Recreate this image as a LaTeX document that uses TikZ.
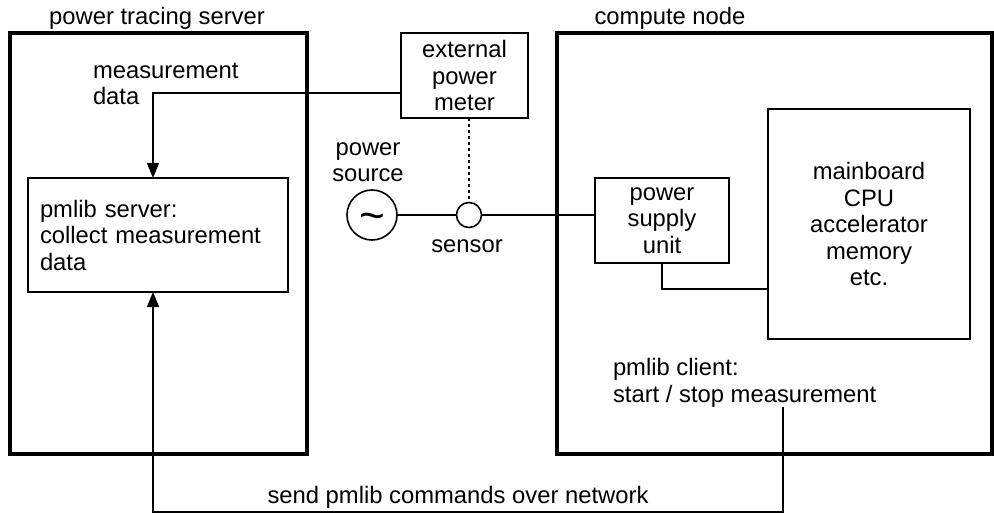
\documentclass[tikz,border=0pt]{standalone}
\usepackage{fontspec}
\setmainfont{Liberation Sans}
\usetikzlibrary{arrows.meta}
\begin{document}
\begin{tikzpicture}[x=1pt,y=-1pt,
  every node/.style={font=\fontsize{23.8}{26.5}\selectfont, outer sep=0pt},
  bigbox/.style={draw, line width=3.2pt, rectangle, inner sep=0pt},
  box/.style={draw, line width=1.6pt, rectangle, align=center, inner sep=0pt},
  wire/.style={line width=1.6pt},
  dotwire/.style={line width=1.6pt, dash pattern=on 3pt off 3pt},
  arr/.style={wire, -{Triangle[width=12pt,length=15pt]}},
  lbl/.style={inner sep=0pt}]
\useasboundingbox (0,0) rectangle (994,516);
% big regions
\node[bigbox, minimum width=297pt, minimum height=421pt] (server) at (158.5,243.5) {};
\node[bigbox, minimum width=435pt, minimum height=421pt] (compute) at (774.5,243.5) {};
\node[lbl, anchor=base] (servertitle) at (157,25) {power tracing server};
\node[lbl, anchor=base] (computetitle) at (670,25) {compute node};
% boxes
\node[box, minimum width=127pt, minimum height=85pt] (meter) at (464.5,75.5) {external\\power\\meter};
\node[box, minimum width=134pt, minimum height=85pt] (psu) at (662,220.5) {power\\supply\\unit};
\node[box, minimum width=202pt, minimum height=230pt] (mb) at (869,224) {mainboard\\CPU\\accelerator\\memory\\etc.};
\node[draw, line width=1.6pt, rectangle, text width=236pt, align=left, inner xsep=12pt, inner ysep=0pt,
      minimum height=114pt] (pmsrv) at (158,235) {pmlib server:\\collect measurement\\data};
% power source and sensor
\node[draw, circle, line width=1.6pt, minimum size=50pt, inner sep=0pt] (src) at (372,215) {};
\node[lbl, font=\fontsize{44}{44}\selectfont] (tilde) at (372,222) {\char`\~};
\node[draw, circle, line width=1.6pt, minimum size=25pt, inner sep=0pt] (sens) at (469,215) {};
% labels (base anchor = baseline of the last line)
\node[lbl, anchor=base west, align=left] (mlabel) at (93,105) {measurement\\data};
\node[lbl, anchor=base, align=center] (srclabel) at (368,182) {power\\source};
\node[lbl, anchor=base] (senslabel) at (467,252) {sensor};
\node[lbl, anchor=base west, align=left] (client) at (613,402) {pmlib client:\\start / stop measurement};
\node[lbl, anchor=base] (netlabel) at (458,503) {send pmlib commands over network};
% wires
\draw[wire] (src.east) -- (sens.west);
\draw[wire] (sens.east) -- (sens.east -| psu.west);
\draw[dotwire] (sens.north |- meter.south) -- (sens.north);
\draw[arr] ([yshift=-17.5pt]meter.west) -| ([xshift=-5pt]pmsrv.north);
\draw[wire] (psu.south) |- ([yshift=-65pt]mb.west);
\coordinate (cmd) at (783,407);
\coordinate (netR) at (783,512);
\draw[arr] (cmd) -- (netR) -| ([xshift=-5pt]pmsrv.south);
\end{tikzpicture}
\end{document}
